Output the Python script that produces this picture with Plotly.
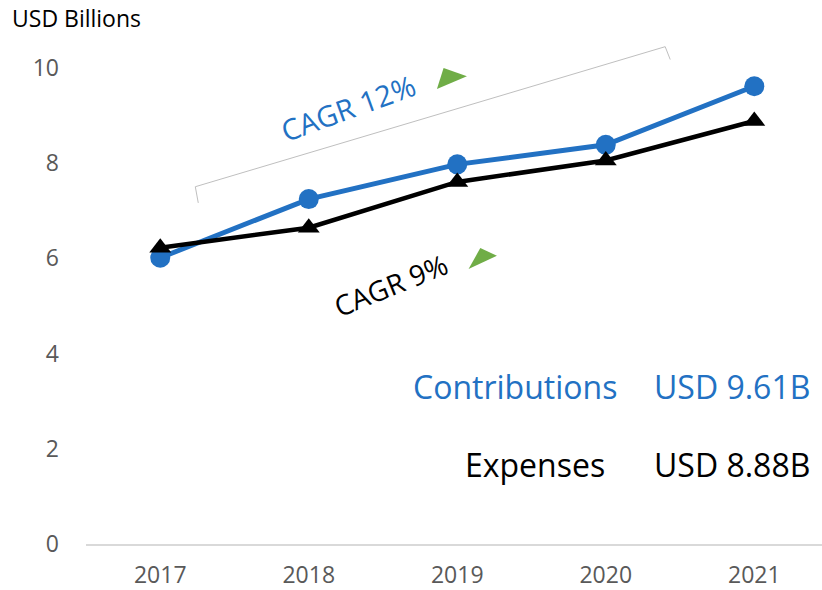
import plotly.graph_objects as go

years = ["2017", "2018", "2019", "2020", "2021"]
contributions = [6.01, 7.24, 7.97, 8.38, 9.61]
expenses = [6.22, 6.64, 7.60, 8.05, 8.88]
y_ticks = [0, 2, 4, 6, 8, 10]

BLUE = "#2271C3"
BLACK = "#000000"
GREEN = "#70AD47"
FONT = "Open Sans"

fig = go.Figure()
fig.add_trace(go.Scatter(
    x=years, y=contributions, mode="lines+markers", name="Contributions",
    line=dict(color=BLUE, width=5),
    marker=dict(symbol="circle", size=20, color=BLUE),
))
fig.add_trace(go.Scatter(
    x=years, y=expenses, mode="lines+markers", name="Expenses",
    line=dict(color=BLACK, width=4.5),
    marker=dict(symbol="triangle-up", size=19, color=BLACK),
))

# green arrow decorations (category index coordinates)
fig.add_shape(type="path", path="M 1.863 9.553 L 1.908 9.994 L 2.065 9.817 Z",
              fillcolor=GREEN, line=dict(width=0))
fig.add_shape(type="path", path="M 2.076 5.771 L 2.155 6.212 L 2.267 6.050 Z",
              fillcolor=GREEN, line=dict(width=0))

# bracket
fig.add_shape(type="path",
              path="M 0.256 7.16 L 0.236 7.5 L 3.40 10.44 L 3.434 10.17",
              line=dict(color="#BFBFBF", width=1))

fig.add_annotation(x=1.266, y=9.16, text="CAGR 12%", showarrow=False, textangle=-20,
                   font=dict(family=FONT, size=29, color=BLUE))
fig.add_annotation(x=1.549, y=5.44, text="CAGR 9%", showarrow=False, textangle=-22,
                   font=dict(family=FONT, size=28, color=BLACK))

fig.add_annotation(x=619, xref="paper", y=3.30, yref="y",
                   text="Contributions", showarrow=False, xanchor="right",
                   font=dict(family=FONT, size=32, color=BLUE))
fig.add_annotation(x=812, xref="paper", y=3.30, yref="y",
                   text="USD 9.61B", showarrow=False, xanchor="right",
                   font=dict(family=FONT, size=32, color=BLUE))
fig.add_annotation(x=607, xref="paper", y=1.66, yref="y",
                   text="Expenses", showarrow=False, xanchor="right",
                   font=dict(family=FONT, size=32, color=BLACK))
fig.add_annotation(x=812, xref="paper", y=1.66, yref="y",
                   text="USD 8.88B", showarrow=False, xanchor="right",
                   font=dict(family=FONT, size=32, color=BLACK))

fig.add_annotation(x=10, xref="paper", y=18, yref="paper", text="USD Billions",
                   showarrow=False, xanchor="left", yanchor="middle",
                   font=dict(family=FONT, size=23, color="#000000"))

L, R, T, B = 86, 0, 20, 46
W, H = 822, 590
pw = W - L - R
ph = H - T - B

# convert pixel annotation positions to paper fractions
for a in fig.layout.annotations:
    if a.xref == "paper":
        a.x = (a.x - L) / pw
    if a.yref == "paper":
        a.y = (H - B - a.y) / ph

fig.update_layout(
    width=W, height=H,
    margin=dict(l=L, r=R, t=T, b=B, autoexpand=False),
    plot_bgcolor="white", paper_bgcolor="white",
    showlegend=False,
    font=dict(family=FONT, size=23, color="#595959"),
    xaxis=dict(type="category", range=[-0.5, 4.456], showgrid=False,
               showline=True, linecolor="#D9D9D9", linewidth=2,
               ticks="", ticklabelstandoff=9,
               tickfont=dict(size=23, color="#595959"), zeroline=False),
    yaxis=dict(range=[0, 11], tickvals=y_ticks, showgrid=False, showline=False,
               zeroline=False, ticks="", ticklabelstandoff=26,
               tickfont=dict(size=23, color="#595959")),
)

fig.write_html("out.html", config={"displayModeBar": False},
               post_script="document.body.style.margin='0';document.body.style.overflow='hidden';")
